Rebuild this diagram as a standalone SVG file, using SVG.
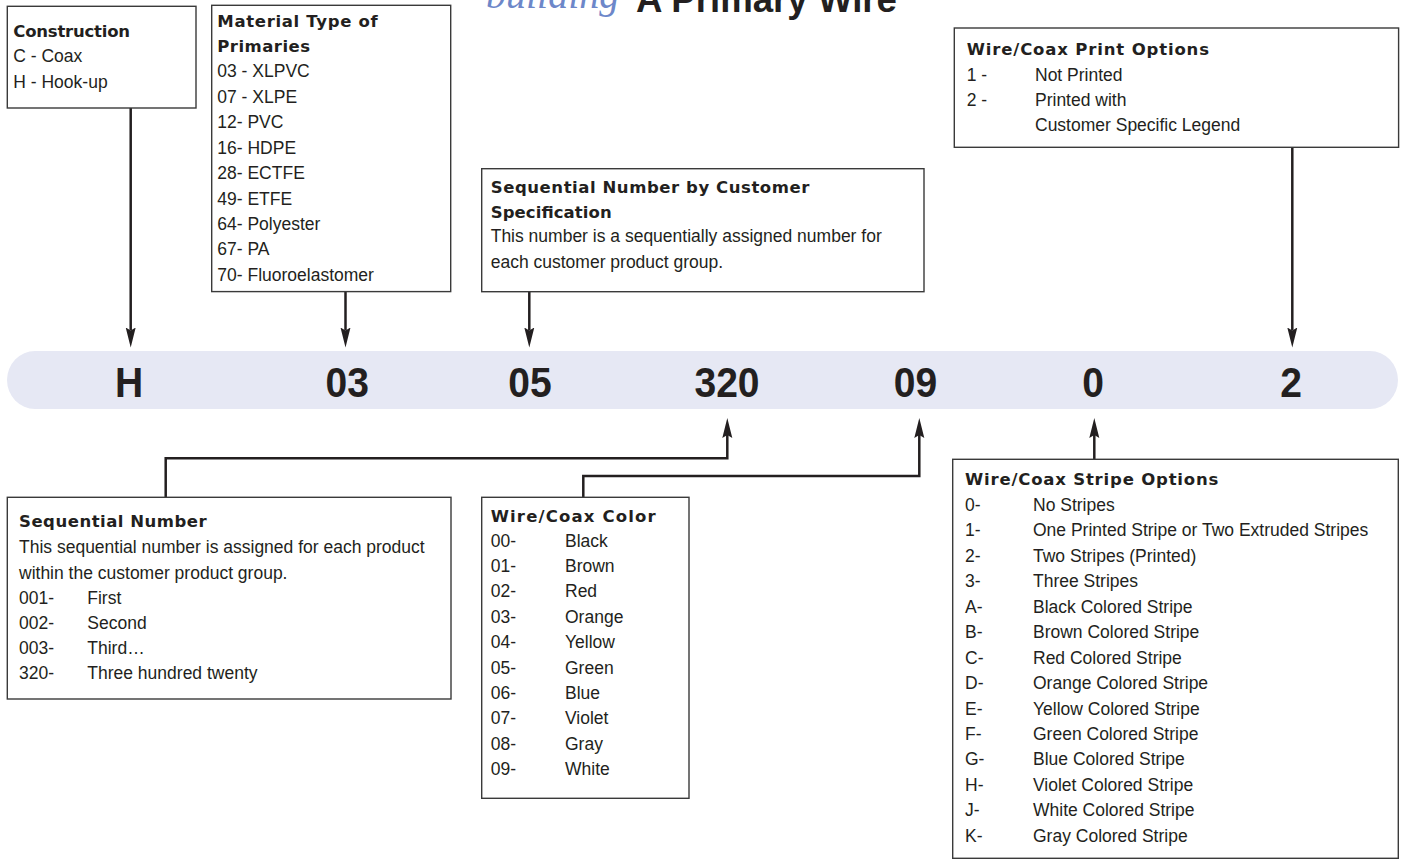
<svg xmlns="http://www.w3.org/2000/svg" width="1405" height="863" viewBox="0 0 1405 863">
<style>
  .box { fill: #ffffff; stroke: #3a3a3a; stroke-width: 1.4; }
  .hd { font-family: "DejaVu Sans", "Liberation Sans", Arial, sans-serif; font-weight: bold; font-size: 16.5px; fill: #231f20; }
  .tx { font-family: "Liberation Sans", Arial, sans-serif; font-size: 17.5px; fill: #231f20; }
  .code { font-family: "Liberation Sans", Arial, sans-serif; font-weight: bold; font-size: 42px; fill: #231f20; text-anchor: middle; }
  .conn { fill: none; stroke: #231f20; stroke-width: 2.5; marker-end: url(#arr); }
</style>
<defs>
  <marker id="arr" markerUnits="userSpaceOnUse" markerWidth="24" markerHeight="14" viewBox="0 -7 24 14" refX="3" refY="0" orient="auto">
    <path d="M0,-5 L20,0 L0,5 L3,0 Z" fill="#231f20"/>
  </marker>
</defs>
<rect width="1405" height="863" fill="#ffffff"/>

<g id="title">
  <text x="486" y="8" font-family="'Liberation Serif', 'Times New Roman', serif" font-style="italic" font-size="40" fill="#6d87c9">building</text>
  <text x="636" y="12" font-family="'Liberation Sans', Arial, sans-serif" font-weight="bold" font-size="36" fill="#231f20" textLength="261" lengthAdjust="spacingAndGlyphs">A Primary Wire</text>
</g>

<g id="band">
  <rect x="7" y="351" width="1391" height="58" rx="28" ry="29" fill="#e6e8f4"/>
  <text class="code" transform="translate(129.2 397) scale(0.93 1)">H</text>
  <text class="code" transform="translate(347.2 397) scale(0.93 1)">03</text>
  <text class="code" transform="translate(530 397) scale(0.93 1)">05</text>
  <text class="code" transform="translate(727 397) scale(0.93 1)">320</text>
  <text class="code" transform="translate(915.5 397) scale(0.93 1)">09</text>
  <text class="code" transform="translate(1093 397) scale(0.93 1)">0</text>
  <text class="code" transform="translate(1291 397) scale(0.93 1)">2</text>
</g>

<g id="connectors">
  <path class="conn" d="M130.7,108 V330.5"/>
  <path class="conn" d="M345.5,292 V330.5"/>
  <path class="conn" d="M529.3,292 V330.5"/>
  <path class="conn" d="M1292.3,147.3 V330.5"/>
  <path class="conn" d="M165.7,497.3 V458.3 H727.3 V435"/>
  <path class="conn" d="M583.3,497.3 V476 H919.3 V435"/>
  <path class="conn" d="M1094.3,459.3 V435"/>
</g>

<g id="construction">
  <rect class="box" x="7.3" y="6.3" width="188.7" height="101.7"/>
  <text class="hd" x="13.3" y="37.3" textLength="116.7">Construction</text>
  <text class="tx" x="13.3" y="62.3">C - Coax</text>
  <text class="tx" x="13.3" y="87.7">H - Hook-up</text>
</g>

<g id="material">
  <rect class="box" x="211.7" y="5.3" width="239" height="286.3"/>
  <text class="hd" x="217.3" y="27.3" textLength="160.4">Material Type of</text>
  <text class="hd" x="217.3" y="52.3" textLength="92.7">Primaries</text>
  <text class="tx" x="217.3" y="77.3">03 - XLPVC</text>
  <text class="tx" x="217.3" y="102.7">07 - XLPE</text>
  <text class="tx" x="217.3" y="128.2">12- PVC</text>
  <text class="tx" x="217.3" y="153.6">16- HDPE</text>
  <text class="tx" x="217.3" y="179.1">28- ECTFE</text>
  <text class="tx" x="217.3" y="204.5">49- ETFE</text>
  <text class="tx" x="217.3" y="230">64- Polyester</text>
  <text class="tx" x="217.3" y="255.4">67- PA</text>
  <text class="tx" x="217.3" y="280.9">70- Fluoroelastomer</text>
</g>

<g id="seq-customer">
  <rect class="box" x="481.7" y="168.7" width="442.3" height="123"/>
  <text class="hd" x="490.7" y="193.3" textLength="318.7">Sequential Number by Customer</text>
  <text class="hd" x="490.7" y="217.8" textLength="121">Specification</text>
  <text class="tx" x="490.7" y="242.3">This number is a sequentially assigned number for</text>
  <text class="tx" x="490.7" y="267.7">each customer product group.</text>
</g>

<g id="print-options">
  <rect class="box" x="954.3" y="28" width="444.3" height="119.3"/>
  <text class="hd" x="966.7" y="55" textLength="242.3">Wire/Coax Print Options</text>
  <text class="tx" x="966.7" y="80.7">1 -</text>
  <text class="tx" x="1035" y="80.7">Not Printed</text>
  <text class="tx" x="966.7" y="106">2 -</text>
  <text class="tx" x="1035" y="106">Printed with</text>
  <text class="tx" x="1035" y="130.7">Customer Specific Legend</text>
</g>

<g id="seq-number">
  <rect class="box" x="7.3" y="497.3" width="443.7" height="201.7"/>
  <text class="hd" x="19" y="527.3" textLength="187.7">Sequential Number</text>
  <text class="tx" x="19" y="553.3">This sequential number is assigned for each product</text>
  <text class="tx" x="19" y="578.5">within the customer product group.</text>
  <text class="tx" x="19" y="603.7">001-</text><text class="tx" x="87.3" y="603.7">First</text>
  <text class="tx" x="19" y="628.9">002-</text><text class="tx" x="87.3" y="628.9">Second</text>
  <text class="tx" x="19" y="654.1">003-</text><text class="tx" x="87.3" y="654.1">Third…</text>
  <text class="tx" x="19" y="679.3">320-</text><text class="tx" x="87.3" y="679.3">Three hundred twenty</text>
</g>

<g id="color">
  <rect class="box" x="481.7" y="497.3" width="207.3" height="301"/>
  <text class="hd" x="490.7" y="521.7" textLength="165">Wire/Coax Color</text>
  <text class="tx" x="490.7" y="546.7">00-</text><text class="tx" x="565" y="546.7">Black</text>
  <text class="tx" x="490.7" y="572.1">01-</text><text class="tx" x="565" y="572.1">Brown</text>
  <text class="tx" x="490.7" y="597.4">02-</text><text class="tx" x="565" y="597.4">Red</text>
  <text class="tx" x="490.7" y="622.8">03-</text><text class="tx" x="565" y="622.8">Orange</text>
  <text class="tx" x="490.7" y="648.2">04-</text><text class="tx" x="565" y="648.2">Yellow</text>
  <text class="tx" x="490.7" y="673.6">05-</text><text class="tx" x="565" y="673.6">Green</text>
  <text class="tx" x="490.7" y="698.9">06-</text><text class="tx" x="565" y="698.9">Blue</text>
  <text class="tx" x="490.7" y="724.3">07-</text><text class="tx" x="565" y="724.3">Violet</text>
  <text class="tx" x="490.7" y="749.7">08-</text><text class="tx" x="565" y="749.7">Gray</text>
  <text class="tx" x="490.7" y="775">09-</text><text class="tx" x="565" y="775">White</text>
</g>

<g id="stripe-options">
  <rect class="box" x="952.7" y="459.3" width="445.6" height="399"/>
  <text class="hd" x="965" y="485" textLength="253.3">Wire/Coax Stripe Options</text>
  <text class="tx" x="965" y="511">0-</text><text class="tx" x="1033" y="511">No Stripes</text>
  <text class="tx" x="965" y="536.4">1-</text><text class="tx" x="1033" y="536.4">One Printed Stripe or Two Extruded Stripes</text>
  <text class="tx" x="965" y="561.9">2-</text><text class="tx" x="1033" y="561.9">Two Stripes (Printed)</text>
  <text class="tx" x="965" y="587.3">3-</text><text class="tx" x="1033" y="587.3">Three Stripes</text>
  <text class="tx" x="965" y="612.8">A-</text><text class="tx" x="1033" y="612.8">Black Colored Stripe</text>
  <text class="tx" x="965" y="638.2">B-</text><text class="tx" x="1033" y="638.2">Brown Colored Stripe</text>
  <text class="tx" x="965" y="663.6">C-</text><text class="tx" x="1033" y="663.6">Red Colored Stripe</text>
  <text class="tx" x="965" y="689.1">D-</text><text class="tx" x="1033" y="689.1">Orange Colored Stripe</text>
  <text class="tx" x="965" y="714.5">E-</text><text class="tx" x="1033" y="714.5">Yellow Colored Stripe</text>
  <text class="tx" x="965" y="740">F-</text><text class="tx" x="1033" y="740">Green Colored Stripe</text>
  <text class="tx" x="965" y="765.4">G-</text><text class="tx" x="1033" y="765.4">Blue Colored Stripe</text>
  <text class="tx" x="965" y="790.8">H-</text><text class="tx" x="1033" y="790.8">Violet Colored Stripe</text>
  <text class="tx" x="965" y="816.3">J-</text><text class="tx" x="1033" y="816.3">White Colored Stripe</text>
  <text class="tx" x="965" y="841.7">K-</text><text class="tx" x="1033" y="841.7">Gray Colored Stripe</text>
</g>
</svg>
